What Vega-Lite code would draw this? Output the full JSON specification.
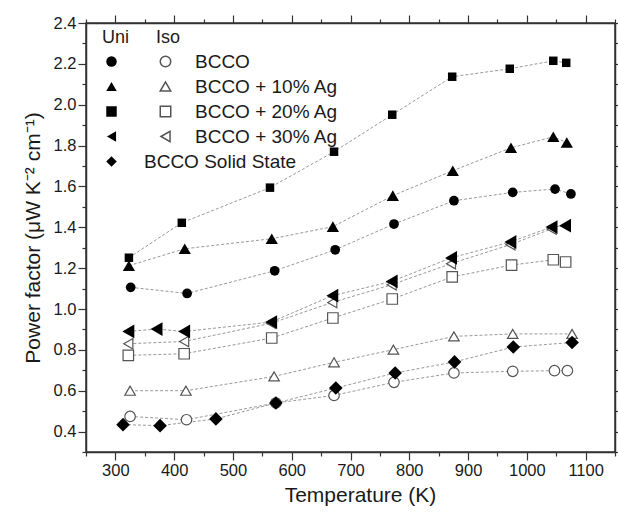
{
  "$schema": "https://vega.github.io/schema/vega-lite/v6.json",
  "width": 529,
  "height": 429,
  "autosize": {"type": "none"},
  "padding": {"left": 86, "top": 23, "right": 3, "bottom": 63},
  "background": "white",
  "config": {
    "font": "Liberation Sans",
    "view": {"stroke": "#333", "strokeWidth": 1.5},
    "axis": {
      "grid": false,
      "domainColor": "#333",
      "domainWidth": 1.5,
      "tickColor": "#333",
      "tickWidth": 1.2,
      "labelFont": "Liberation Sans",
      "labelFontSize": 16.5,
      "labelColor": "#1a1a1a",
      "titleFont": "Liberation Sans",
      "titleFontSize": 21,
      "titleFontWeight": "normal",
      "titleColor": "#1a1a1a",
      "labelOverlap": false
    },
    "legend": {
      "labelFont": "Liberation Sans",
      "labelFontSize": 19,
      "labelColor": "#1a1a1a",
      "titleFont": "Liberation Sans",
      "titleFontSize": 18,
      "titleFontWeight": "normal",
      "titleColor": "#1a1a1a"
    }
  },
  "data": {
    "values": [
      {"T": 326, "v": 1.106, "mode": "Uni", "material": "BCCO"},
      {"T": 422, "v": 1.076, "mode": "Uni", "material": "BCCO"},
      {"T": 571, "v": 1.187, "mode": "Uni", "material": "BCCO"},
      {"T": 674, "v": 1.29, "mode": "Uni", "material": "BCCO"},
      {"T": 774, "v": 1.416, "mode": "Uni", "material": "BCCO"},
      {"T": 876, "v": 1.53, "mode": "Uni", "material": "BCCO"},
      {"T": 976, "v": 1.571, "mode": "Uni", "material": "BCCO"},
      {"T": 1048, "v": 1.587, "mode": "Uni", "material": "BCCO"},
      {"T": 1075, "v": 1.563, "mode": "Uni", "material": "BCCO"},
      {"T": 323, "v": 1.212, "mode": "Uni", "material": "BCCO + 10% Ag"},
      {"T": 418, "v": 1.295, "mode": "Uni", "material": "BCCO + 10% Ag"},
      {"T": 566, "v": 1.344, "mode": "Uni", "material": "BCCO + 10% Ag"},
      {"T": 670, "v": 1.403, "mode": "Uni", "material": "BCCO + 10% Ag"},
      {"T": 772, "v": 1.555, "mode": "Uni", "material": "BCCO + 10% Ag"},
      {"T": 874, "v": 1.677, "mode": "Uni", "material": "BCCO + 10% Ag"},
      {"T": 973, "v": 1.789, "mode": "Uni", "material": "BCCO + 10% Ag"},
      {"T": 1045, "v": 1.843, "mode": "Uni", "material": "BCCO + 10% Ag"},
      {"T": 1068, "v": 1.815, "mode": "Uni", "material": "BCCO + 10% Ag"},
      {"T": 323, "v": 1.251, "mode": "Uni", "material": "BCCO + 20% Ag"},
      {"T": 413, "v": 1.422, "mode": "Uni", "material": "BCCO + 20% Ag"},
      {"T": 563, "v": 1.594, "mode": "Uni", "material": "BCCO + 20% Ag"},
      {"T": 672, "v": 1.77, "mode": "Uni", "material": "BCCO + 20% Ag"},
      {"T": 771, "v": 1.951, "mode": "Uni", "material": "BCCO + 20% Ag"},
      {"T": 873, "v": 2.137, "mode": "Uni", "material": "BCCO + 20% Ag"},
      {"T": 971, "v": 2.176, "mode": "Uni", "material": "BCCO + 20% Ag"},
      {"T": 1045, "v": 2.215, "mode": "Uni", "material": "BCCO + 20% Ag"},
      {"T": 1067, "v": 2.205, "mode": "Uni", "material": "BCCO + 20% Ag"},
      {"T": 322, "v": 0.89, "mode": "Uni", "material": "BCCO + 30% Ag"},
      {"T": 370, "v": 0.902, "mode": "Uni", "material": "BCCO + 30% Ag"},
      {"T": 417, "v": 0.89, "mode": "Uni", "material": "BCCO + 30% Ag"},
      {"T": 565, "v": 0.936, "mode": "Uni", "material": "BCCO + 30% Ag"},
      {"T": 669, "v": 1.065, "mode": "Uni", "material": "BCCO + 30% Ag"},
      {"T": 770, "v": 1.135, "mode": "Uni", "material": "BCCO + 30% Ag"},
      {"T": 871, "v": 1.25, "mode": "Uni", "material": "BCCO + 30% Ag"},
      {"T": 972, "v": 1.328, "mode": "Uni", "material": "BCCO + 30% Ag"},
      {"T": 1042, "v": 1.401, "mode": "Uni", "material": "BCCO + 30% Ag"},
      {"T": 1065, "v": 1.408, "mode": "Uni", "material": "BCCO + 30% Ag"},
      {"T": 313, "v": 0.434, "mode": "Uni", "material": "BCCO Solid State"},
      {"T": 376, "v": 0.429, "mode": "Uni", "material": "BCCO Solid State"},
      {"T": 471, "v": 0.462, "mode": "Uni", "material": "BCCO Solid State"},
      {"T": 573, "v": 0.54, "mode": "Uni", "material": "BCCO Solid State"},
      {"T": 675, "v": 0.613, "mode": "Uni", "material": "BCCO Solid State"},
      {"T": 776, "v": 0.687, "mode": "Uni", "material": "BCCO Solid State"},
      {"T": 877, "v": 0.741, "mode": "Uni", "material": "BCCO Solid State"},
      {"T": 977, "v": 0.814, "mode": "Uni", "material": "BCCO Solid State"},
      {"T": 1077, "v": 0.836, "mode": "Uni", "material": "BCCO Solid State"},
      {"T": 325, "v": 0.474, "mode": "Iso", "material": "BCCO"},
      {"T": 421, "v": 0.458, "mode": "Iso", "material": "BCCO"},
      {"T": 573, "v": 0.54, "mode": "Iso", "material": "BCCO"},
      {"T": 672, "v": 0.577, "mode": "Iso", "material": "BCCO"},
      {"T": 774, "v": 0.641, "mode": "Iso", "material": "BCCO"},
      {"T": 876, "v": 0.687, "mode": "Iso", "material": "BCCO"},
      {"T": 976, "v": 0.695, "mode": "Iso", "material": "BCCO"},
      {"T": 1047, "v": 0.698, "mode": "Iso", "material": "BCCO"},
      {"T": 1069, "v": 0.698, "mode": "Iso", "material": "BCCO"},
      {"T": 325, "v": 0.6, "mode": "Iso", "material": "BCCO + 10% Ag"},
      {"T": 420, "v": 0.6, "mode": "Iso", "material": "BCCO + 10% Ag"},
      {"T": 570, "v": 0.67, "mode": "Iso", "material": "BCCO + 10% Ag"},
      {"T": 672, "v": 0.739, "mode": "Iso", "material": "BCCO + 10% Ag"},
      {"T": 773, "v": 0.801, "mode": "Iso", "material": "BCCO + 10% Ag"},
      {"T": 876, "v": 0.866, "mode": "Iso", "material": "BCCO + 10% Ag"},
      {"T": 976, "v": 0.878, "mode": "Iso", "material": "BCCO + 10% Ag"},
      {"T": 1077, "v": 0.878, "mode": "Iso", "material": "BCCO + 10% Ag"},
      {"T": 322, "v": 0.773, "mode": "Iso", "material": "BCCO + 20% Ag"},
      {"T": 417, "v": 0.781, "mode": "Iso", "material": "BCCO + 20% Ag"},
      {"T": 566, "v": 0.858, "mode": "Iso", "material": "BCCO + 20% Ag"},
      {"T": 670, "v": 0.956, "mode": "Iso", "material": "BCCO + 20% Ag"},
      {"T": 771, "v": 1.049, "mode": "Iso", "material": "BCCO + 20% Ag"},
      {"T": 873, "v": 1.157, "mode": "Iso", "material": "BCCO + 20% Ag"},
      {"T": 974, "v": 1.215, "mode": "Iso", "material": "BCCO + 20% Ag"},
      {"T": 1045, "v": 1.241, "mode": "Iso", "material": "BCCO + 20% Ag"},
      {"T": 1066, "v": 1.23, "mode": "Iso", "material": "BCCO + 20% Ag"},
      {"T": 322, "v": 0.83, "mode": "Iso", "material": "BCCO + 30% Ag"},
      {"T": 417, "v": 0.841, "mode": "Iso", "material": "BCCO + 30% Ag"},
      {"T": 565, "v": 0.93, "mode": "Iso", "material": "BCCO + 30% Ag"},
      {"T": 669, "v": 1.032, "mode": "Iso", "material": "BCCO + 30% Ag"},
      {"T": 770, "v": 1.119, "mode": "Iso", "material": "BCCO + 30% Ag"},
      {"T": 871, "v": 1.222, "mode": "Iso", "material": "BCCO + 30% Ag"},
      {"T": 972, "v": 1.315, "mode": "Iso", "material": "BCCO + 30% Ag"},
      {"T": 1042, "v": 1.392, "mode": "Iso", "material": "BCCO + 30% Ag"}
    ]
  },
  "layer": [
    {
      "transform": [{"calculate": "datum.mode + ' ' + datum.material", "as": "series"}],
      "mark": {"type": "line", "stroke": "#999", "strokeWidth": 1, "strokeDash": [3, 2]},
      "encoding": {
        "x": {
          "field": "T", "type": "quantitative",
          "scale": {"domain": [250, 1150], "nice": false, "zero": false},
          "axis": {
            "orient": "bottom",
            "values": [250, 300, 350, 400, 450, 500, 550, 600, 650, 700, 750, 800, 850, 900, 950, 1000, 1050, 1100, 1150],
            "format": "d",
            "labelExpr": "datum.value % 100 === 0 ? datum.label : ''",
            "tickSize": {"condition": {"test": "datum.value % 100 === 0", "value": 8}, "value": 4},
            "labelPadding": 2,
            "title": "Temperature (K)",
            "titlePadding": 6,
            "titleX": 274
          }
        },
        "y": {
          "field": "v", "type": "quantitative",
          "scale": {"domain": [0.3, 2.4], "nice": false, "zero": false},
          "axis": {
            "orient": "left",
            "values": [0.3, 0.4, 0.5, 0.6, 0.7, 0.8, 0.9, 1.0, 1.1, 1.2, 1.3, 1.4, 1.5, 1.6, 1.7, 1.8, 1.9, 2.0, 2.1, 2.2, 2.3, 2.4],
            "format": ".1f",
            "labelExpr": "round(datum.value * 10) % 2 === 0 ? datum.label : ''",
            "tickSize": {"condition": {"test": "round(datum.value * 10) % 2 === 0", "value": 8}, "value": 4},
            "labelPadding": 2,
            "title": "Power factor (μW K⁻² cm⁻¹)",
            "titlePadding": 10
          }
        },
        "detail": {"field": "series", "type": "nominal"},
        "order": {"field": "T", "type": "quantitative"}
      }
    },
    {
      "transform": [{"filter": "datum.mode === 'Iso'"}],
      "mark": {"type": "point", "filled": true, "color": "white", "strokeWidth": 1.2, "opacity": 1, "size": 110},
      "encoding": {
        "x": {"field": "T", "type": "quantitative", "axis": null},
        "y": {"field": "v", "type": "quantitative", "axis": null},
        "shape": {
          "field": "material", "type": "nominal",
          "scale": {"domain": ["BCCO", "BCCO + 10% Ag", "BCCO + 20% Ag", "BCCO + 30% Ag"], "range": ["circle", "triangle-up", "square", "triangle-left"]},
          "legend": {
            "title": "Iso", "orient": "none", "legendX": 70, "legendY": 6,
            "symbolSize": 110, "symbolFillColor": "white",
            "labelOffset": 20, "rowPadding": 5, "gridAlign": "all", "titlePadding": 5
          }
        },
        "stroke": {
          "field": "material", "type": "nominal",
          "scale": {"domain": ["BCCO", "BCCO + 10% Ag", "BCCO + 20% Ag", "BCCO + 30% Ag"], "range": ["#555", "#555", "#555", "#555"]},
          "legend": {
            "title": "Iso", "orient": "none", "legendX": 70, "legendY": 6,
            "symbolSize": 110, "symbolFillColor": "white",
            "labelOffset": 20, "rowPadding": 5, "gridAlign": "all", "titlePadding": 5
          }
        }
      }
    },
    {
      "transform": [{"filter": "datum.mode === 'Uni'"}],
      "mark": {"type": "point", "filled": true, "color": "black", "opacity": 1},
      "encoding": {
        "x": {
          "field": "T", "type": "quantitative",
          "axis": {
            "orient": "top",
            "values": [250, 300, 350, 400, 450, 500, 550, 600, 650, 700, 750, 800, 850, 900, 950, 1000, 1050, 1100, 1150],
            "labels": false, "title": null,
            "tickSize": {"condition": {"test": "datum.value % 100 === 0", "value": 8}, "value": 4}
          }
        },
        "y": {
          "field": "v", "type": "quantitative",
          "axis": {
            "orient": "right",
            "values": [0.3, 0.4, 0.5, 0.6, 0.7, 0.8, 0.9, 1.0, 1.1, 1.2, 1.3, 1.4, 1.5, 1.6, 1.7, 1.8, 1.9, 2.0, 2.1, 2.2, 2.3, 2.4],
            "labels": false, "title": null,
            "tickSize": {"condition": {"test": "round(datum.value * 10) % 2 === 0", "value": 8}, "value": 4}
          }
        },
        "shape": {
          "field": "material", "type": "nominal",
          "scale": {"domain": ["BCCO", "BCCO + 10% Ag", "BCCO + 20% Ag", "BCCO + 30% Ag", "BCCO Solid State"], "range": ["circle", "triangle-up", "square", "triangle-left", "diamond"]},
          "legend": {
            "title": "Uni", "orient": "none", "legendX": 16, "legendY": 6,
            "symbolSize": 110, "symbolFillColor": "black", "symbolStrokeColor": "black",
            "labelExpr": "datum.label === 'BCCO Solid State' ? datum.label : '\u00a0'",
            "labelOffset": 23, "rowPadding": 5, "gridAlign": "all", "titlePadding": 5
          }
        },
        "size": {
          "field": "material", "type": "nominal",
          "scale": {"type": "ordinal", "domain": ["BCCO", "BCCO + 10% Ag", "BCCO + 20% Ag", "BCCO + 30% Ag", "BCCO Solid State"], "range": [95, 150, 72, 190, 185]},
          "legend": null
        }
      }
    }
  ],
  "resolve": {
    "scale": {"shape": "independent", "stroke": "independent"},
    "legend": {"shape": "independent", "stroke": "independent"},
    "axis": {"x": "independent", "y": "independent"}
  }
}
